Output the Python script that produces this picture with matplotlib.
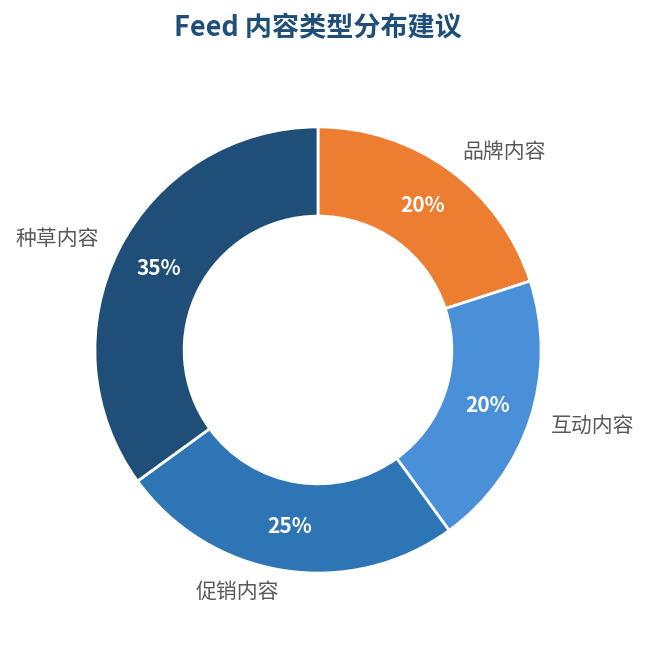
import matplotlib.pyplot as plt

plt.rcParams['font.family'] = ['Noto Sans CJK SC', 'DejaVu Sans']

categories = ['品牌内容', '互动内容', '促销内容', '种草内容']
shares = [20, 20, 25, 35]
colors = ['#ED7D31', '#4A90D9', '#2E75B6', '#1F4E79']

fig = plt.figure(figsize=(6.51, 6.45), dpi=100)
# axes placed so the ring centre sits where the reference has it
ax = fig.add_axes([28 / 651, 5 / 645, 580 / 651, 580 / 645])

wedges, texts, autotexts = ax.pie(
    shares, labels=categories, colors=colors, startangle=90, counterclock=False,
    autopct='%d%%', pctdistance=0.8, labeldistance=1.1,
    wedgeprops=dict(width=0.4, edgecolor='white', linewidth=2),
    textprops=dict(fontsize=15, color='#595959'))

for t in autotexts:
    t.set_color('white')
    t.set_fontsize(15)
    t.set_fontweight('bold')

ax.set_xlim(-1.3, 1.3)
ax.set_ylim(-1.3, 1.3)
ax.set_aspect('equal')

fig.text(318 / 651, 1 - 28 / 645, 'Feed 内容类型分布建议', ha='center', va='center',
         fontsize=19.5, fontweight='bold', color='#1F4E79')

fig.savefig('out.png', dpi=100)
